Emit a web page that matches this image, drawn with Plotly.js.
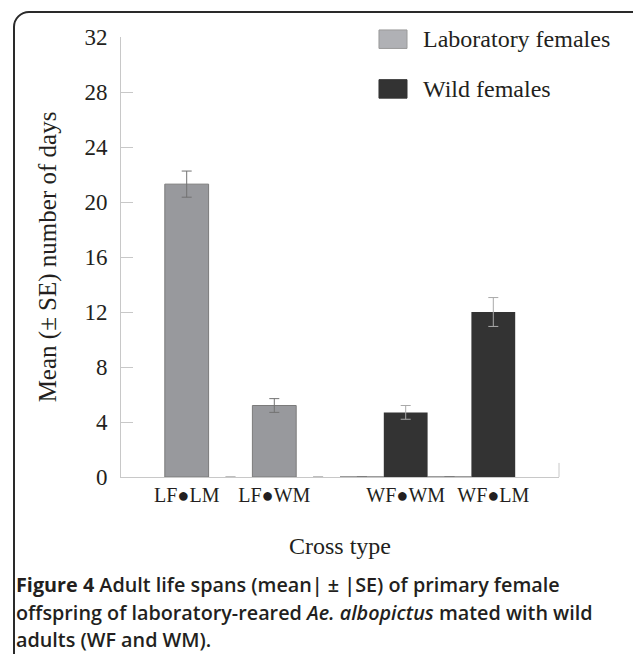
<!DOCTYPE html>
<html>
<head>
<meta charset="utf-8">
<script src="https://cdn.plot.ly/plotly-3.0.1.min.js"></script>
<style>
  html, body { margin: 0; padding: 0; background: #ffffff; width: 633px; height: 654px; overflow: hidden; }
  #frame { position: absolute; left: 13px; top: 11px; width: 700px; height: 700px;
           border: 2px solid #2a2a2a; border-radius: 16px; box-sizing: border-box; }
  #chart { position: absolute; left: 0; top: 0; width: 633px; height: 654px; }
  #caption { position: absolute; left: 16px; top: 571px; width: 615px;
             font-family: "Open Sans", sans-serif; font-size: 19.8px; font-weight: 600;
             line-height: 27.5px; color: #231f20; white-space: nowrap; }
  #caption b { font-weight: 700; }
</style>
</head>
<body>
<div id="frame"></div>
<div id="chart"></div>
<div id="caption"><b>Figure 4</b> Adult life spans (mean| ± |SE) of primary female<br>offspring of laboratory-reared <i>Ae. albopictus</i> mated with wild<br>adults (WF and WM).</div>
<script>
// ---- data ----
var crosses = ["LF●LM", "LF●WM", "WF●WM", "WF●LM"];
var seriesNames = ["Laboratory females", "Wild females"];
var labMeans = [21.3, 5.2, 0, 0];
var labSE = [0.95, 0.5, 0, 0];
var wildMeans = [0, 0, 4.7, 12.0];
var wildSE = [0, 0, 0.5, 1.05];
var yTicks = [0, 4, 8, 12, 16, 20, 24, 28, 32];

// ---- styles ----
var labColor = "#98999d", wildColor = "#333333";
var serif = "Liberation Serif, Times New Roman, serif";
var idx = crosses.map(function (c, i) { return i; });

var lab = {
  type: "bar", name: seriesNames[0], x: idx, y: labMeans,
  width: 0.5, offset: -0.5,
  marker: { color: labColor, line: { color: "#7b7b7b", width: 1 } },
  error_y: { type: "data", array: labSE, visible: true, color: "#727272", thickness: 1, width: 5 },
  showlegend: false, hoverinfo: "skip"
};
var wild = {
  type: "bar", name: seriesNames[1], x: idx, y: wildMeans,
  width: 0.5, offset: 0,
  marker: { color: wildColor, line: { color: wildColor, width: 0 } },
  error_y: { type: "data", array: wildSE, visible: true, color: "#a9a9a9", thickness: 1, width: 5 },
  showlegend: false, hoverinfo: "skip"
};

// tick label sits under the non-zero bar of each cross
var tickPos = idx.map(function (i) { return labMeans[i] > 0 ? i - 0.25 : i + 0.25; });

var annotations = [];
var shapes = [];
var legendLines = ["#9a9a9a", wildColor];
var legendFills = ["#b0b1b5", wildColor];
seriesNames.forEach(function (n, k) {
  var yc = k === 0 ? 0.995 : 0.882;
  shapes.push({ type: "rect", xref: "paper", yref: "paper",
    x0: 0.589, x1: 0.653, y0: yc - 0.021, y1: yc + 0.021,
    fillcolor: legendFills[k], line: { color: legendLines[k], width: 1 } });
  annotations.push({ xref: "paper", yref: "paper", x: 0.685, y: yc,
    xanchor: "left", yanchor: "middle", showarrow: false, text: n,
    font: { family: serif, size: 24, color: "#231f20" } });
});
// small upright tick closing the x axis on the right
shapes.push({ type: "line", xref: "x domain", yref: "y domain", x0: 1, x1: 1, y0: 0, y1: 0.032,
  line: { color: "#c8c8c8", width: 1 } });

var layout = {
  width: 633, height: 654,
  margin: { l: 121, r: 74, t: 37, b: 177 },
  paper_bgcolor: "rgba(0,0,0,0)", plot_bgcolor: "rgba(0,0,0,0)",
  barmode: "overlay",
  showlegend: false,
  xaxis: {
    range: [-1, 4], showgrid: false, zeroline: false,
    showline: true, linecolor: "#c8c8c8", linewidth: 1,
    ticks: "", tickmode: "array", tickvals: tickPos, ticktext: crosses,
    ticklabelstandoff: 0,
    tickfont: { family: serif, size: 20, color: "#231f20" },
    title: { text: "Cross type", standoff: 32, font: { family: serif, size: 24, color: "#231f20" } }
  },
  yaxis: {
    range: [0, 32], showgrid: false, zeroline: false,
    showline: true, linecolor: "#c8c8c8", linewidth: 1,
    ticks: "inside", ticklen: 12, tickcolor: "#c8c8c8",
    tickmode: "array", tickvals: yTicks, ticktext: yTicks.map(String),
    ticklabelstandoff: 8,
    tickfont: { family: serif, size: 23, color: "#231f20" },
    title: { text: "Mean (± SE) number of days", standoff: 20, font: { family: serif, size: 25, color: "#231f20" } }
  },
  shapes: shapes,
  annotations: annotations
};

Plotly.newPlot("chart", [lab, wild], layout, { displayModeBar: false, staticPlot: true });
</script>
</body>
</html>
